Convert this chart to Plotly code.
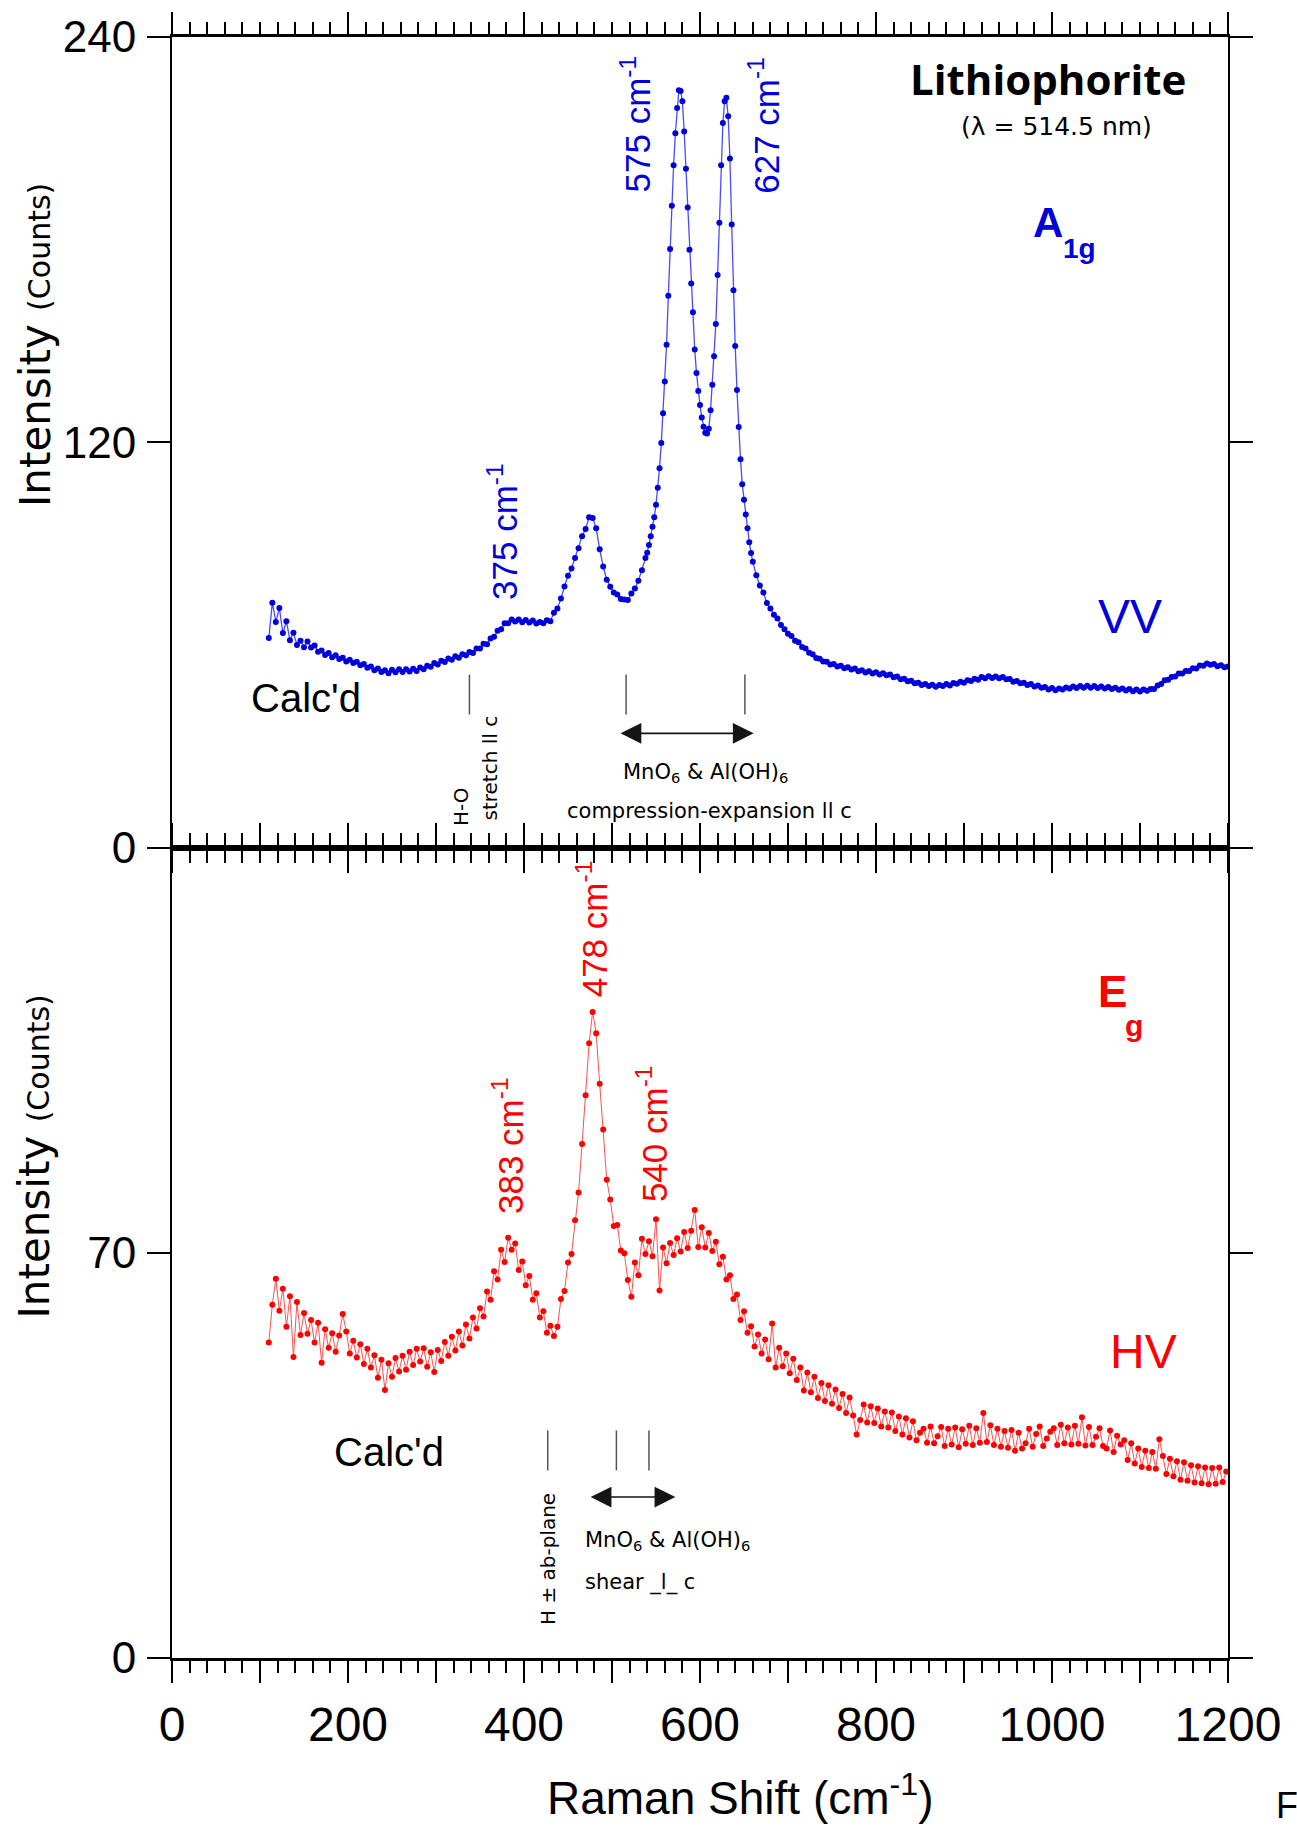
import plotly.graph_objects as go

# ------------------------------------------------------------------ data
# VV (A1g) spectrum, top panel
vv_shift = list(range(110, 540, 4)) + list(range(540, 661, 2)) + list(range(664, 1201, 4))
vv_counts_low = [
    62.0, 72.5, 66.8, 70.9, 63.5, 67.0, 61.4, 63.6, 60.0, 61.2,
    59.3, 61.0, 59.2, 59.8, 58.0, 58.3, 57.0, 57.6, 56.3, 56.9,
    55.8, 56.2, 55.1, 55.6, 54.6, 55.0, 54.0, 54.3, 53.2, 53.6,
    52.5, 53.0, 52.0, 52.5, 51.6, 52.6, 51.9, 52.8, 52.0, 52.8,
    52.1, 52.9, 52.3, 53.3, 52.8, 53.8, 53.5, 54.6, 54.2, 55.3,
    54.9, 56.0, 55.6, 56.6, 56.2, 57.2, 56.9, 57.9, 57.6, 58.9,
    58.9, 60.3, 60.2, 61.9, 62.4, 64.2, 64.6, 66.4, 66.4, 67.5,
    66.9, 67.5, 66.7, 67.4, 66.6, 67.2, 66.3, 66.8, 66.4, 67.3,
    67.0, 69.5, 70.8, 73.7, 77.3, 80.5, 82.6, 85.7, 88.6, 92.2,
    94.3, 97.8, 97.6, 94.5, 88.3, 83.2, 79.3, 77.2, 75.5, 74.9,
    73.6, 73.4, 73.3, 75.2, 76.7, 79.0, 82.1, 85.7,
]
vv_counts_peak = [
    87.3, 89.6, 92.2, 95.0, 97.8, 101.5, 106.5, 112.3, 119.8, 128.6,
    138.0, 148.9, 163.4, 177.2, 190.0, 202.0, 211.5, 219.0, 224.2, 224.0,
    221.0, 212.0, 201.0, 189.5, 177.0, 167.0, 158.5, 147.5, 140.5, 135.2,
    131.0, 127.3, 124.6, 122.8, 122.6, 124.0, 129.5, 137.0, 145.5, 155.0,
    169.5, 185.0, 202.0, 214.5, 221.0, 222.0, 216.5, 204.0, 184.5, 165.0,
    148.5, 135.5, 124.5, 115.0, 107.6, 103.0, 98.6, 94.5, 90.4, 87.2,
    84.6,
]
vv_counts_high = [
    80.6, 77.6, 75.5, 72.4, 70.8, 68.9, 67.8, 65.9, 64.6, 63.3,
    62.6, 61.2, 60.8, 59.4, 58.9, 57.7, 57.2, 56.1, 55.9, 55.1,
    55.0, 54.2, 54.3, 53.6, 53.8, 53.1, 53.4, 52.7, 53.0, 52.2,
    52.5, 51.8, 52.2, 51.5, 51.9, 51.2, 51.6, 51.0, 51.2, 50.4,
    50.6, 49.8, 50.0, 49.2, 49.4, 48.6, 48.8, 48.1, 48.4, 47.8,
    48.2, 47.6, 48.1, 47.8, 48.4, 48.0, 48.7, 48.5, 49.1, 48.8,
    49.5, 49.3, 50.0, 49.7, 50.5, 50.1, 50.7, 50.2, 50.6, 50.1,
    50.5, 49.8, 49.9, 49.1, 49.3, 48.6, 48.8, 48.1, 48.4, 47.7,
    48.0, 47.3, 47.5, 46.8, 47.2, 46.6, 47.1, 46.8, 47.4, 47.1,
    47.7, 47.2, 47.8, 47.3, 47.9, 47.3, 47.8, 47.2, 47.7, 47.1,
    47.5, 46.9, 47.3, 46.7, 47.1, 46.5, 46.9, 46.3, 46.8, 46.2,
    46.8, 46.4, 46.9, 46.9, 48.0, 48.4, 49.5, 49.7, 50.5, 50.6,
    51.5, 51.5, 52.3, 52.3, 53.1, 53.0, 53.9, 53.8, 54.5, 54.1,
    54.3, 53.7, 54.0, 53.4, 53.6,
]
vv_counts = vv_counts_low + vv_counts_peak + vv_counts_high

# HV (Eg) spectrum, bottom panel
hv_shift = list(range(110, 1199, 4))
hv_counts_low = [
    54.5, 61.0, 65.5, 60.0, 63.8, 57.2, 62.5, 52.0, 61.5, 55.8,
    59.6, 56.0, 58.4, 54.5, 57.9, 51.0, 56.8, 53.6, 56.1, 52.9,
    55.7, 59.4, 56.4, 52.6, 54.8, 51.9, 54.2, 50.8, 53.4, 50.2,
    52.3, 48.4, 51.5, 46.3, 50.9, 48.6, 51.8, 49.5, 52.2, 49.8,
    52.9, 50.6, 53.4, 51.2, 53.5, 50.3, 52.8, 49.4, 53.2, 51.3,
    54.6, 52.2, 55.5, 53.1, 56.4, 54.0, 57.6, 55.2, 58.8, 56.9,
    60.4, 59.0, 63.3, 61.9, 66.8, 65.4, 70.5, 68.4, 72.6, 70.5,
    71.6, 67.0, 68.5, 64.4, 66.0, 61.9, 63.0, 58.8, 59.9, 56.2,
    57.4, 55.6, 57.2,
]
hv_counts_mid = [
    62.0, 63.4, 68.3, 69.8, 75.6, 80.4, 88.8, 97.2, 106.2, 111.6,
    107.9, 99.2, 91.3, 82.6, 79.2, 74.6, 74.8, 70.4, 69.9, 65.3,
    62.4, 68.3, 66.1, 72.4, 69.8, 72.0, 69.4, 75.8, 63.5, 70.9,
    68.2, 71.7, 69.6, 72.5, 70.2, 73.6, 70.8, 73.8, 77.4, 71.0,
    74.4, 70.9, 73.4, 70.3, 71.9, 68.0, 69.3, 65.4, 66.1, 62.0,
]
hv_counts_high = [
    62.8, 58.4, 59.9, 56.2, 57.3, 53.8, 55.9, 52.6, 55.0, 51.6,
    57.8, 50.2, 53.6, 50.4, 52.6, 49.2, 51.7, 48.0, 50.2, 46.2,
    49.3, 45.9, 48.6, 44.9, 47.5, 44.4, 47.1, 43.9, 46.4, 43.2,
    45.6, 42.3, 45.0, 41.9, 38.6, 41.1, 43.8, 40.7, 43.5, 40.6,
    43.1, 40.0, 42.6, 39.8, 42.4, 39.2, 41.7, 38.6, 41.4, 38.1,
    40.9, 37.6, 38.9, 39.6, 37.2, 40.0, 37.1, 38.3, 39.9, 36.6,
    39.6, 36.9, 39.8, 36.4, 39.5, 37.0, 40.1, 36.8, 39.7, 37.2,
    42.3, 37.3, 40.2, 36.8, 39.6, 36.5, 39.2, 36.3, 39.4, 35.8,
    38.9, 36.2, 37.1, 39.6, 36.5, 38.7, 40.0, 36.6, 37.9, 39.1,
    39.7, 36.8, 40.3, 37.1, 39.8, 36.9, 40.1, 37.0, 41.6, 36.7,
    39.9, 36.8, 38.2, 39.7, 36.6, 36.2, 39.3, 35.6, 38.4, 36.9,
    37.6, 34.2, 37.1, 33.6, 36.2, 33.0, 35.8, 32.8, 35.6, 32.7,
    37.8, 34.9, 31.8, 34.4, 31.4, 34.0, 30.8, 33.8, 30.6, 33.3,
    30.3, 33.1, 30.2, 32.9, 30.0, 32.8, 30.1, 32.9, 30.4, 32.2,
]
hv_counts = hv_counts_low + hv_counts_mid + hv_counts_high

# calculated mode positions (cm-1) and the range they are drawn over
calc_vv = [338, 516, 651]
calc_vv_span = [39.4, 51.2]
calc_hv = [427, 505, 542]
calc_hv_span = [32.4, 39.3]
arrow_vv = [508, 661]
arrow_hv = [474, 572]

peaks_vv = [375, 575, 627]
peaks_hv = [383, 478, 540]

x_tickvals = [0, 100, 200, 300, 400, 500, 600, 700, 800, 900, 1000, 1100, 1200]
x_ticktext = ["0", "", "200", "", "400", "", "600", "", "800", "", "1000", "", "1200"]
y_ticks_vv = [0, 120, 240]
y_ticks_hv = [0, 70]

# ------------------------------------------------------------------ style
SANS = "Liberation Sans, Arial, Helvetica, sans-serif"
WIDE = "DejaVu Sans, Verdana, sans-serif"
BLUE = "#0000dd"
RED = "#ff0000"
W, H = 1297, 1828
ML, MR, MT, MB = 172, 69, 32, 170
PW, PH = W - ML - MR, H - MT - MB

fig = go.Figure()
fig.add_trace(go.Scatter(
    x=vv_shift, y=vv_counts, xaxis="x", yaxis="y", mode="lines+markers",
    line=dict(color="#4a4aff", width=1.3), marker=dict(color=BLUE, size=6),
    showlegend=False, hoverinfo="skip"))
fig.add_trace(go.Scatter(
    x=hv_shift, y=hv_counts, xaxis="x2", yaxis="y2", mode="lines+markers",
    line=dict(color="#ff5050", width=1), marker=dict(color=RED, size=6),
    showlegend=False, hoverinfo="skip"))

common = dict(showline=True, linecolor="black", mirror="ticks", ticks="outside",
              tickcolor="black", showgrid=False, zeroline=False)
minor = dict(dtick=20, tick0=0, ticks="outside", ticklen=12, tickwidth=1.5,
             tickcolor="black", showgrid=False)

fig.update_layout(
    width=W, height=H, margin=dict(l=ML, r=MR, t=MT, b=MB),
    paper_bgcolor="white", plot_bgcolor="white",
    font=dict(family=SANS, color="black"),
    xaxis=dict(common, domain=[0, 1], anchor="y", range=[0, 1200],
               tickvals=x_tickvals, ticktext=x_ticktext, showticklabels=False,
               ticklen=22, tickwidth=1.5, linewidth=3, minor=minor),
    yaxis=dict(common, domain=[0.5, 1], anchor="x", range=[0, 240],
               tickvals=y_ticks_vv, ticklen=23, tickwidth=1.5, linewidth=2,
               tickfont=dict(size=44, family=SANS), ticklabelstandoff=2),
    xaxis2=dict(common, domain=[0, 1], anchor="y2", range=[0, 1200],
                tickvals=x_tickvals, ticktext=x_ticktext,
                ticklen=22, tickwidth=1.5, linewidth=3, minor=minor,
                tickfont=dict(size=48, family=SANS), ticklabelstandoff=0),
    yaxis2=dict(common, domain=[0, 0.5], anchor="x2", range=[0, 140],
                tickvals=y_ticks_hv, ticklen=23, tickwidth=1.5, linewidth=2,
                tickfont=dict(size=44, family=SANS), ticklabelstandoff=2),
)

# calc'd tick marks
shapes = []
for c in calc_vv:
    shapes.append(dict(type="line", xref="x", yref="y", x0=c, x1=c,
                       y0=calc_vv_span[0], y1=calc_vv_span[1],
                       line=dict(color="#555555", width=1.5)))
for c in calc_hv:
    shapes.append(dict(type="line", xref="x2", yref="y2", x0=c, x1=c,
                       y0=calc_hv_span[0], y1=calc_hv_span[1],
                       line=dict(color="#555555", width=1.5)))
fig.update_layout(shapes=shapes)

anns = []


def txt(text, x, y, panel, size, color="black", family=SANS, angle=0,
        xanchor="center", yanchor="middle"):
    ax_x = "x" if panel == 1 else "x2"
    ax_y = "y" if panel == 1 else "y2"
    anns.append(dict(text=text, x=x, y=y, xref=ax_x, yref=ax_y, showarrow=False,
                     font=dict(size=size, color=color, family=family),
                     textangle=angle, xanchor=xanchor, yanchor=yanchor))


def sup_label(v):
    return f"{v} cm<sup>-1</sup>"


# top panel
txt("<b>Lithiophorite</b>", 996, 227.6, 1, 42, family="Open Sans, DejaVu Sans, sans-serif")
txt("(λ = 514.5 nm)", 1005, 213.6, 1, 25, family=WIDE)
txt("<b>A</b>", 996, 185.1, 1, 42, color=BLUE)
txt("<b>1g</b>", 1031, 177.3, 1, 28, color=BLUE)
txt("VV", 1089, 68.3, 1, 48, color=BLUE)
txt(sup_label(peaks_vv[0]), 376, 93.7, 1, 35, color=BLUE, angle=-90)
txt(sup_label(peaks_vv[1]), 527.3, 214.1, 1, 35, color=BLUE, angle=-90)
txt(sup_label(peaks_vv[2]), 672.7, 214.0, 1, 35, color=BLUE, angle=-90)
txt("Calc'd", 152.8, 44.4, 1, 40)
txt("H-O", 328.4, 12.3, 1, 20, family=WIDE, angle=-90)
txt("stretch ll c", 361.4, 23.4, 1, 20, family=WIDE, angle=-90)
txt("MnO<sub>6</sub> & Al(OH)<sub>6</sub>", 605.7, 22.0, 1, 21, family=WIDE)
txt("compression-expansion ll c", 610.8, 10.8, 1, 21, family=WIDE)

# bottom panel
txt("<b>E</b>", 1069.3, 115.1, 2, 44, color=RED)
txt("<b>g</b>", 1093.2, 109.3, 2, 30, color=RED)
txt("HV", 1104.5, 52.9, 2, 48, color=RED)
txt(sup_label(peaks_hv[0]), 381.8, 88.6, 2, 35, color=RED, angle=-90)
txt(sup_label(peaks_hv[1]), 477.0, 126.0, 2, 35, color=RED, angle=-90)
txt(sup_label(peaks_hv[2]), 545.5, 90.5, 2, 35, color=RED, angle=-90)
txt("Calc'd", 246.6, 35.5, 2, 40)
txt("H ± ab-plane", 427.3, 17.1, 2, 20, family=WIDE, angle=-90)
txt("MnO<sub>6</sub> & Al(OH)<sub>6</sub>", 467, 20.2, 2, 21, family=WIDE, xanchor="left")
txt("shear _l_ c", 467, 13.1, 2, 21, family=WIDE, xanchor="left")

# double-headed arrows
for (a0, a1), yv, xr, yr in [(arrow_vv, 33.8, "x", "y"), (arrow_hv, 27.8, "x2", "y2")]:
    anns.append(dict(text="", x=a1, y=yv, ax=a0, ay=yv, xref=xr, yref=yr,
                     axref=xr, ayref=yr, showarrow=True, arrowhead=2,
                     startarrowhead=2, arrowside="end+start", arrowsize=2.6,
                     startarrowsize=2.6, arrowwidth=1.6, arrowcolor="#151515",
                     standoff=0, startstandoff=0))


def px_to_paper(px, py):
    return (px - ML) / PW, (H - MB - py) / PH


# axis titles
for cy in (341, 1155):
    xp, yp = px_to_paper(35, cy)
    anns.append(dict(text="Intensity <span style='font-size:30px'>(Counts)</span>",
                     x=xp, y=yp, xref="paper", yref="paper", showarrow=False,
                     textangle=-90, font=dict(size=42, family=WIDE, color="black"),
                     xanchor="center", yanchor="middle"))
xp, yp = px_to_paper(740, 1795)
anns.append(dict(text="Raman Shift (cm<sup>-1</sup>)", x=xp, y=yp, xref="paper",
                 yref="paper", showarrow=False, font=dict(size=46, family=SANS),
                 xanchor="center", yanchor="middle"))
xp, yp = px_to_paper(1274, 1806)
anns.append(dict(text="F", x=xp, y=yp, xref="paper", yref="paper", showarrow=False,
                 font=dict(size=36, family=SANS), xanchor="left", yanchor="middle"))

fig.update_layout(annotations=anns)
fig.write_html("out.html")
